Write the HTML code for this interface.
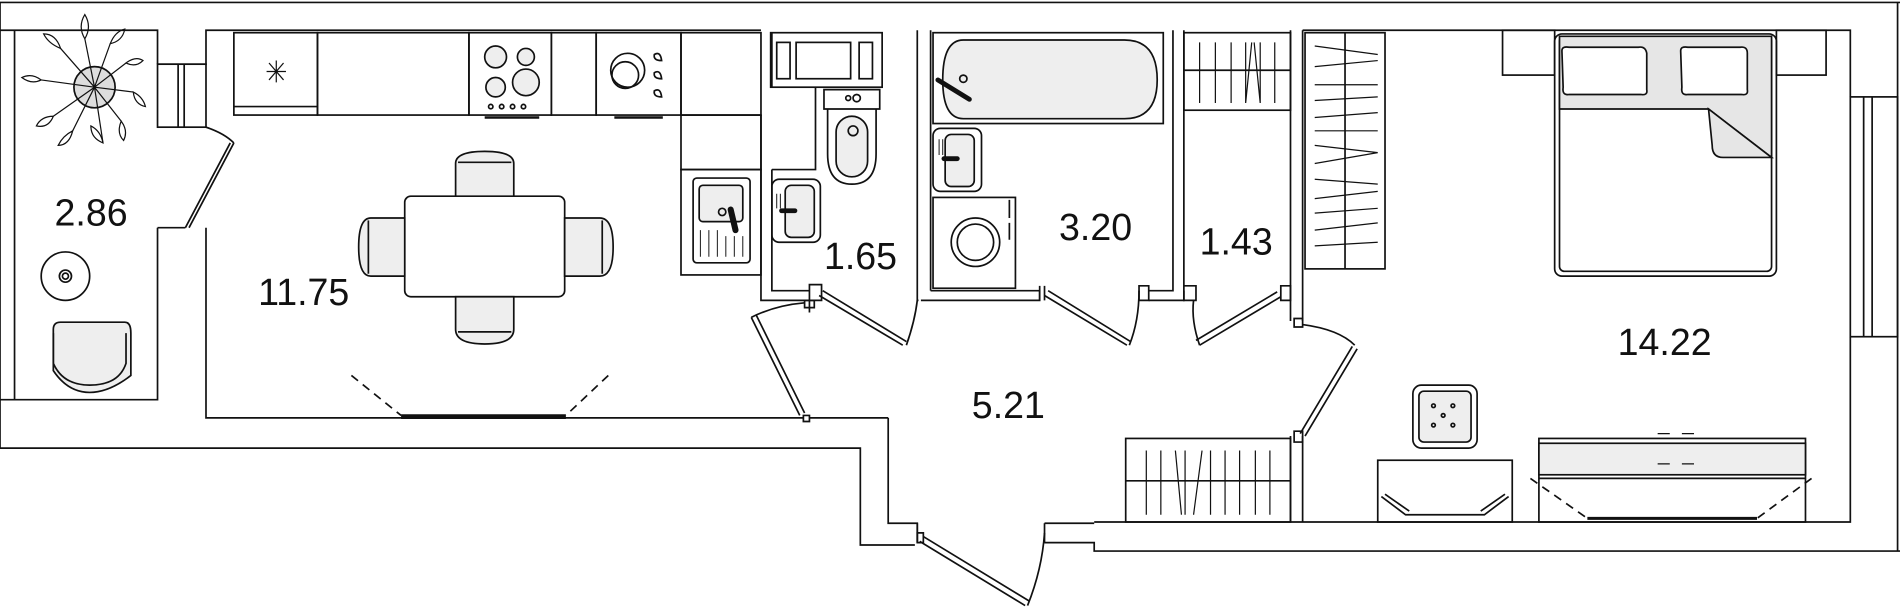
<!DOCTYPE html>
<html><head><meta charset="utf-8"><style>
html,body{margin:0;padding:0;background:#fff;width:1900px;height:608px;overflow:hidden}
svg{display:block}
text{font-family:"Liberation Sans",sans-serif;font-size:31px;fill:#111}
</style></head><body>
<svg width="1900" height="608" viewBox="0 0 1568 502" preserveAspectRatio="none" xmlns="http://www.w3.org/2000/svg">
<g fill="none" stroke="#111" stroke-width="1.4">
<!-- outer boundary -->
<path d="M0,2 H1568"/>
<path d="M1566,2 V455"/>
<path d="M1568,455 H903 V448 H862"/>
<path d="M755,450 H710 V370 H0 V2"/>
<!-- left balcony -->
<path d="M0,25 H130 V53"/>
<path d="M12,25 V330"/>
<path d="M0,330 H130 V188"/>
<path d="M130,53 H170 V25 H628"/>
<rect x="130" y="53" width="40" height="52"/>
<path d="M147,53 V105 M152,53 V105"/>
<path d="M130,188 H153"/>
<path d="M170,188 V345 H663"/>
<!-- balcony door -->
<path d="M153,188 L190,118 M156,188 L193,118"/>
<path d="M170,105 Q185,110 193,118"/>
<!-- kitchen bottom window -->
<path d="M331,343 H467 M331,345 H467" stroke-width="2"/>
<path d="M290,310 L331,343 M502,310 L467,343" stroke-dasharray="7,5"/>
<!-- kitchen cabinets -->
<rect x="193" y="27" width="69" height="68"/>
<path d="M193,88 H262"/>
<rect x="262" y="27" width="125" height="68"/>
<rect x="387" y="27" width="68" height="68"/>
<rect x="455" y="27" width="37" height="68"/>
<rect x="492" y="27" width="70" height="68"/>
<rect x="562" y="27" width="66" height="68"/>
<rect x="562" y="95" width="66" height="45"/>
<rect x="562" y="140" width="66" height="87"/>
<rect x="572" y="147" width="47" height="70" rx="3"/>
<path d="M222,52 L234,66 M234,52 L222,66 M228,50 V68 M220,59 H236" stroke-width="1"/>
<circle cx="409" cy="47" r="9" fill="#eee"/><circle cx="434" cy="47" r="7" fill="#eee"/>
<circle cx="409" cy="72" r="8" fill="#eee"/><circle cx="434" cy="68" r="11" fill="#eee"/>
<circle cx="405" cy="88" r="1.8"/><circle cx="414" cy="88" r="1.8"/><circle cx="423" cy="88" r="1.8"/><circle cx="432" cy="88" r="1.8"/>
<path d="M400,97 H445" stroke-width="2"/>
<path d="M507,97 H547" stroke-width="2"/>
<circle cx="518" cy="58" r="14"/><circle cx="516" cy="62" r="11"/>
<path d="M540,45 q5,-3 6,5 q-7,0 -6,-5z M540,60 q5,-3 6,5 q-7,0 -6,-5z M540,75 q5,-3 6,5 q-7,0 -6,-5z"/>
<rect x="577" y="153" width="36" height="30" rx="3" fill="#eee"/>
<circle cx="596" cy="175" r="3"/>
<path d="M603,173 L607,190" stroke-width="5" stroke-linecap="round"/>
<path d="M578,190 V212 M585,190 V212 M592,190 V212 M599,195 V212 M606,195 V212 M613,195 V212" stroke-width="0.8"/>
<!-- table and chairs -->
<rect x="334" y="162" width="132" height="83" rx="5"/>
<path d="M376,162 V135 Q376,125 400,125 Q424,125 424,135 V162 Z" fill="#eee"/>
<path d="M378,134 H422" />
<path d="M376,245 V272 Q376,284 400,284 Q424,284 424,272 V245 Z" fill="#eee"/>
<path d="M378,274 H422"/>
<path d="M334,180 H306 Q296,180 296,204 Q296,228 306,228 H334 Z" fill="#eee"/>
<path d="M304,182 V226"/>
<path d="M466,180 H495 Q506,180 506,204 Q506,228 495,228 H466 Z" fill="#eee"/>
<path d="M497,182 V226"/>
<!-- balcony furniture -->
<circle cx="54" cy="228" r="20"/><circle cx="54" cy="228" r="5"/><circle cx="54" cy="228" r="2.5"/>
<path d="M50,266 H103 Q108,266 108,275 V310 Q90,324 74,324 Q56,324 44,306 V272 Q44,266 50,266Z" fill="#eee"/>
<path d="M44,275 V300 Q52,318 74,318 Q98,318 104,300 V275"/>
<circle cx="78" cy="72" r="17" fill="#ddd"/>
<g stroke-width="1">
<path d="M78,72 L70,32 M78,72 L91,36 M78,72 L104,52 M78,72 L110,76 M78,72 L100,100 M78,72 L85,118 M78,72 L60,108 M78,72 L44,96 M78,72 L34,66 M78,72 L50,40"/>
<path d="M70,32 q-6,-10 0,-20 q6,10 0,20z M91,36 q4,-10 12,-12 q-2,10 -12,12z M104,52 q8,-6 14,-2 q-6,6 -14,2z M110,76 q8,4 10,12 q-9,-2 -10,-12z M100,100 q6,8 2,16 q-6,-6 -2,-16z M85,118 q-2,-10 -10,-14 q0,10 10,14z M60,108 q-8,4 -12,12 q9,0 12,-12z M44,96 q-10,0 -14,8 q10,2 14,-8z M34,66 q-8,-6 -16,-2 q8,6 16,2z M50,40 q-10,-4 -14,-12 q10,0 14,12z"/>
</g>
<!-- WC room -->
<path d="M628,95 V248 H668"/>
<path d="M637,140 V240 H668"/>
<path d="M637,140 H673 V72"/>
<path d="M637,27 V72"/>
<rect x="636" y="27" width="92" height="45"/>
<rect x="641" y="35" width="11" height="30"/><rect x="657" y="35" width="45" height="30"/><rect x="709" y="35" width="11" height="30"/>
<path d="M680,74 H726 V90 H680 Z"/>
<path d="M683,90 V127 Q683,152 703,152 Q723,152 723,127 V90"/>
<rect x="690" y="96" width="26" height="50" rx="13" fill="#eee"/>
<circle cx="704" cy="108" r="4"/><circle cx="700" cy="81" r="2"/><circle cx="707" cy="81" r="3"/>
<rect x="637" y="148" width="40" height="52" rx="6"/>
<rect x="648" y="153" width="24" height="43" rx="5" fill="#eee"/>
<path d="M641,160 V172 M644,160 V172" stroke-width="0.8"/>
<path d="M645,174 H656" stroke-width="4" stroke-linecap="round"/>
<path d="M757,25 V248 H758 M768,25 V240"/>
<path d="M668,235 V248 H678 V235 Z M668,248 V258"/>
<!-- WC door -->
<path d="M676,244 L745,285 M679,240 L748,282"/>
<path d="M748,285 Q755,265 757,248"/>
<!-- hall door from kitchen -->
<path d="M620,262 L660,343 M624,260 L664,341"/>
<path d="M620,262 Q640,252 664,250"/>
<path d="M663,343 V348 H668 V343 Z"/>
<path d="M664,248 H672 V254 H664 Z"/>
<!-- bathroom -->
<path d="M768,240 H858 V248 H760"/>
<path d="M858,236 V248 M862,236 V248"/>
<rect x="770" y="27" width="190" height="75"/>
<path d="M795,33 H928 Q955,33 955,66 Q955,98 928,98 H795 Q778,98 778,66 Q778,33 795,33Z" fill="#eee"/>
<circle cx="795" cy="65" r="3"/>
<path d="M774,66 L800,82" stroke-width="4" stroke-linecap="round"/>
<rect x="770" y="106" width="40" height="52" rx="6"/>
<rect x="780" y="111" width="24" height="43" rx="5" fill="#eee"/>
<path d="M775,115 V128 M778,115 V128" stroke-width="0.8"/>
<path d="M779,131 H790" stroke-width="4" stroke-linecap="round"/>
<rect x="770" y="163" width="68" height="75"/>
<circle cx="805" cy="200" r="20"/><circle cx="805" cy="200" r="15"/>
<path d="M833,165 V180 M833,184 V198"/>
<path d="M862,244 L930,285 M865,240 L933,282"/>
<path d="M932,285 Q940,265 940,240"/>
<path d="M940,236 H948 V248 H940 Z"/>
<path d="M948,240 H968 V25 M948,248 H977 V25"/>
<!-- closet 1.43 -->
<path d="M977,240 V248 H987 V236 H977"/>
<rect x="977" y="27" width="88" height="64"/>
<path d="M977,58 H1065"/>
<g stroke-width="1"><path d="M990,35 V85 M1003,35 V85 M1016,35 V85 M1028,35 V85 M1040,35 V85 M1052,35 V85 M1033,35 L1028,85 M1035,35 L1040,85"/></g>
<path d="M990,285 L1057,245 M987,281 L1054,241"/>
<path d="M990,285 Q983,265 985,248"/>
<path d="M1057,236 H1065 V248 H1057 Z"/>
<path d="M1065,25 V265 M1075,25 V265"/>
<path d="M1068,263 H1075 V270 H1068 Z"/>
<!-- hall door to bedroom -->
<path d="M1073,358 L1116,286 M1077,360 L1120,288"/>
<path d="M1075,268 Q1105,272 1118,285"/>
<path d="M1068,356 H1075 V365 H1068 Z"/>
<path d="M1065,360 V431 M1075,360 V431"/>
<!-- hall wardrobe -->
<rect x="929" y="362" width="136" height="69"/>
<path d="M929,397 H1065"/>
<g stroke-width="1"><path d="M946,372 V425 M958,372 V425 M970,372 L975,425 M978,372 V425 M992,372 L985,425 M999,372 V425 M1011,372 V425 M1023,372 V425 M1036,372 V425 M1048,372 V425"/></g>
<path d="M733,345 H668 M733,345 V432 H757 V448"/>
<path d="M757,432 V448 M862,432 H903"/>
<path d="M862,432 V448"/>
<path d="M757,440 H762 V448 H757 Z"/>
<!-- bottom hall door -->
<path d="M759,447 L846,500 M762,443 L849,496"/>
<path d="M848,500 Q860,470 862,440"/>
<!-- bedroom walls -->
<path d="M1075,25 H1527 V80"/>
<path d="M903,431 H1527 V278"/>
<rect x="1527" y="80" width="39" height="198"/>
<path d="M1538,80 V278 M1545,80 V278"/>
<!-- bedroom wardrobe -->
<rect x="1077" y="27" width="66" height="195"/>
<path d="M1110,27 V222"/>
<g stroke-width="1">
<path d="M1085,38 L1137,45 M1085,55 L1137,50 M1085,70 H1137 M1085,83 L1137,80 M1085,97 L1137,93 M1085,108 H1137 M1085,120 L1137,126 M1085,135 L1137,126 M1085,148 L1137,152 M1085,164 L1137,158 M1085,176 L1137,172 M1085,190 L1137,184 M1085,203 L1137,200"/>
</g>
<!-- bed -->
<rect x="1240" y="25" width="43" height="37"/>
<rect x="1466" y="25" width="41" height="37"/>
<rect x="1283" y="28" width="183" height="200" rx="6"/>
<rect x="1287" y="30" width="175" height="194" rx="4"/>
<path d="M1287,30 H1462 V130 L1410,90 H1287Z" fill="#e6e6e6"/>
<path d="M1410,90 L1462,130 H1422 Q1413,130 1413,120 Z" fill="#e6e6e6"/>
<path d="M1289,42 Q1289,38 1295,39 H1352 Q1358,38 1359,44 V74 Q1360,79 1354,78 H1295 Q1289,79 1290,72Z" fill="#fff"/>
<path d="M1387,42 Q1387,38 1393,39 H1436 Q1442,38 1442,44 V74 Q1443,79 1437,78 H1393 Q1387,79 1388,72Z" fill="#fff"/>
<!-- ottoman -->
<rect x="1166" y="318" width="53" height="52" rx="7"/>
<rect x="1171" y="323" width="43" height="42" rx="4" fill="#eee"/>
<circle cx="1183" cy="335" r="1.5"/><circle cx="1199" cy="335" r="1.5"/><circle cx="1191" cy="343" r="1.5"/><circle cx="1183" cy="351" r="1.5"/><circle cx="1199" cy="351" r="1.5"/>
<!-- tv stand -->
<rect x="1137" y="380" width="111" height="51"/>
<path d="M1140,410 L1160,425 H1225 L1245,410 M1143,408 L1163,422 M1242,408 L1222,422"/>
<!-- dresser -->
<rect x="1270" y="362" width="220" height="69"/>
<rect x="1270" y="366" width="220" height="26" fill="#eee"/>
<path d="M1270,395 H1490"/>
<path d="M1310,428 H1450" stroke-width="2.5"/>
<path d="M1263,395 L1310,428 M1495,395 L1450,428" stroke-dasharray="7,5"/>
<path d="M1368,358 H1378 M1388,358 H1398 M1368,383 H1378 M1388,383 H1398" stroke-width="1"/>
</g>
<g font-weight="300">
<text x="45" y="186">2.86</text>
<text x="213" y="252">11.75</text>
<text x="680" y="222">1.65</text>
<text x="874" y="198">3.20</text>
<text x="990" y="210">1.43</text>
<text x="802" y="345">5.21</text>
<text x="1335" y="293">14.22</text>
</g>
</svg>
</body></html>
